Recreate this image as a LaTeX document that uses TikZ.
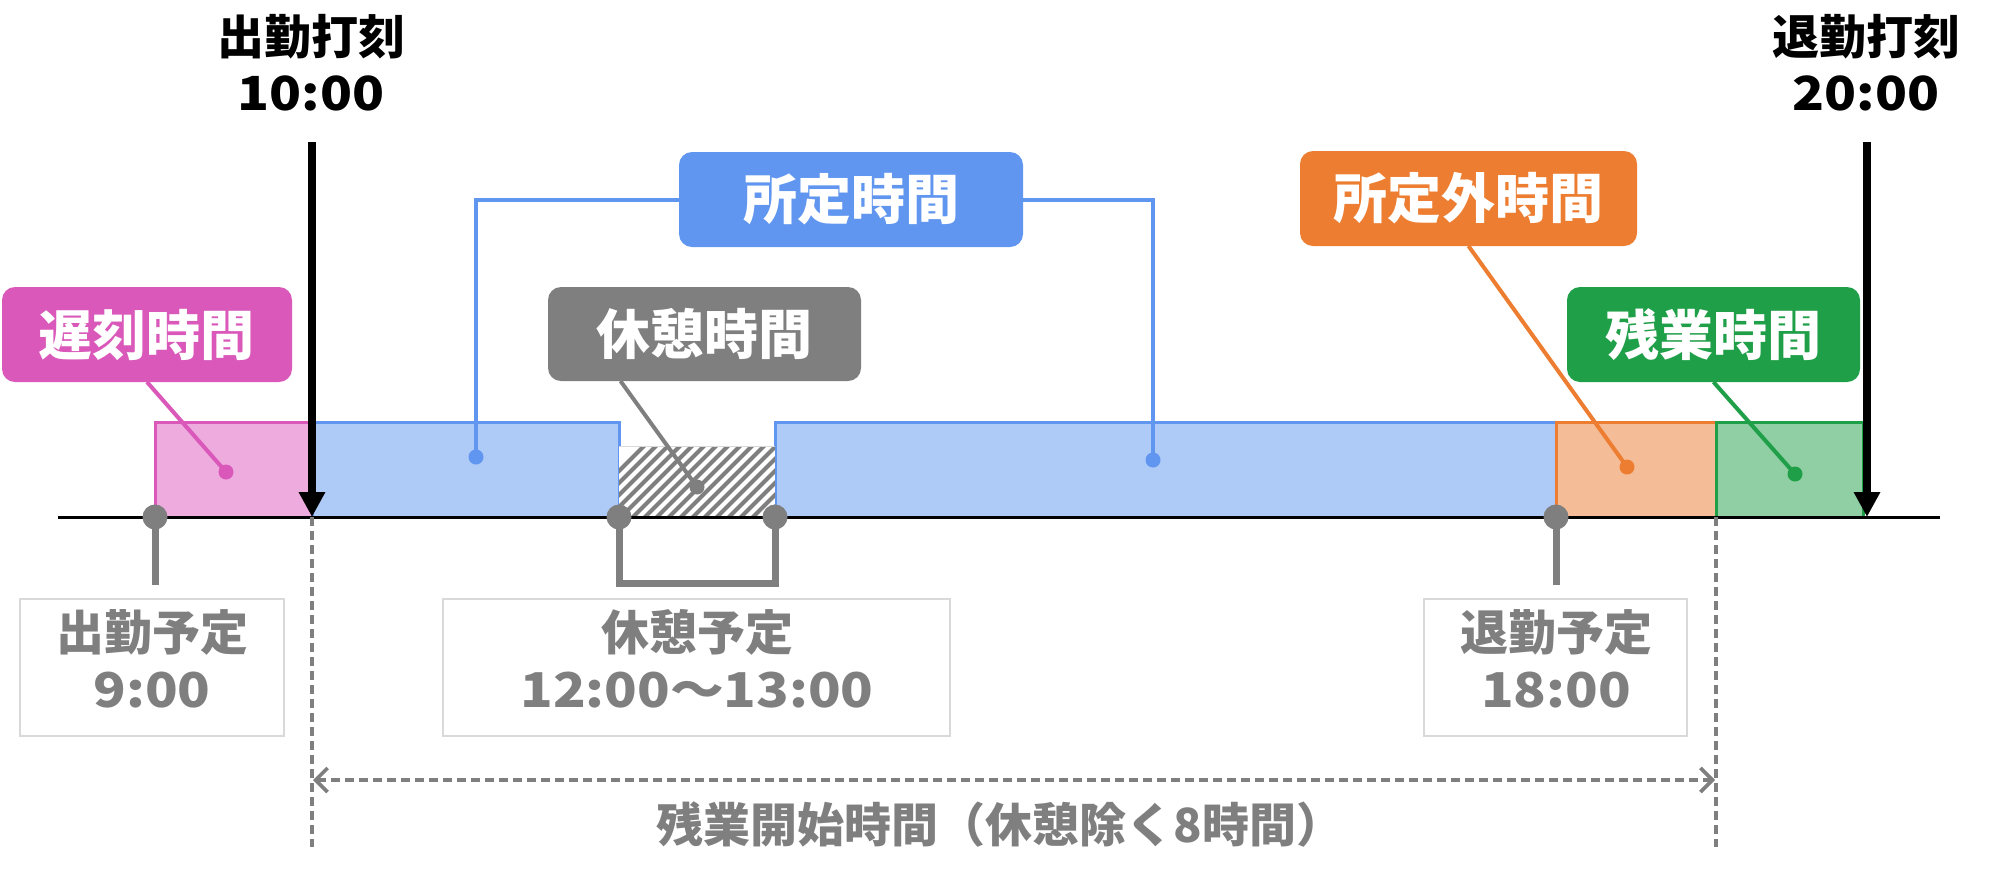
\documentclass[tikz,border=0pt]{standalone}
\usepackage{fontspec}
\usepackage{graphicx}
\setmainfont{Noto Sans CJK JP}
\usetikzlibrary{arrows.meta,fit,calc}
\definecolor{pinkD}{RGB}{218,88,185}
\definecolor{pinkL}{RGB}{237,171,222}
\definecolor{blueD}{RGB}{96,150,240}
\definecolor{blueL}{RGB}{174,202,247}
\definecolor{grayD}{RGB}{127,127,127}
\definecolor{grayB}{RGB}{217,217,217}
\definecolor{orangeD}{RGB}{237,125,49}
\definecolor{orangeL}{RGB}{245,189,151}
\definecolor{greenD}{RGB}{31,159,72}
\definecolor{greenL}{RGB}{143,207,163}
\newcommand{\widedigits}[1]{\scalebox{1.12}[1]{#1}}
\begin{document}
\begin{tikzpicture}[x=0.5pt,y=-0.5pt,
  seg/.style={inner sep=0pt,outer sep=0pt,line width=1.5pt},
  lblbox/.style={inner sep=0pt,outer sep=0pt,rounded corners=6.5pt},
  lbltext/.style={inner sep=0pt,text=white,font=\bfseries\fontsize{27pt}{30pt}\selectfont},
  toplbl/.style={inner sep=0pt,font=\bfseries\fontsize{23.5pt}{28pt}\selectfont},
  schedbox/.style={inner sep=0pt,outer sep=0pt,draw=grayB,line width=0.6pt},
  schedtext/.style={inner sep=0pt,text=grayD,font=\bfseries\fontsize{24pt}{28pt}\selectfont},
  cdot/.style={circle,inner sep=0pt,outer sep=0pt,minimum size=7.5pt},
  gdot/.style={circle,inner sep=0pt,outer sep=0pt,minimum size=12.5pt,fill=grayD},
  con/.style={line width=2pt},
  gline/.style={line width=3.5pt,draw=grayD},
  punch/.style={line width=4pt,-{Triangle[length=12.5pt,width=12.5pt]}},
  gdash/.style={draw=grayD,line width=1.8pt,dash pattern=on 4.5pt off 2.5pt}
]
\useasboundingbox (0,0) rectangle (1999,890);

% time bar segments
\node[seg,fill=pinkL,draw=pinkD,fit={(155,422)(312,517)}] (latebar) {};
\node[seg,fill=blueL,draw=blueD,fit={(312,422)(619,517)}] (blue1) {};
\node[seg,fill=blueL,draw=blueD,fit={(775,422)(1556,517)}] (blue2) {};
\node[seg,fill=orangeL,draw=orangeD,fit={(1556,422)(1716,517)}] (gaibar) {};
\node[seg,fill=greenL,draw=greenD,fit={(1716,422)(1863,517)}] (zanbar) {};
\node[seg,fill=white,fit={(619,446)(775,517)}] (hatch) {};
\begin{scope}
  \clip (619,446) rectangle (775,517);
  \foreach \i in {0,...,20}{
    \draw[grayD,line width=2pt] (560+\i*12,530) -- (560+\i*12+90,440);
  }
\end{scope}
\draw[grayB,line width=0.5pt] (hatch.north west) -- (hatch.north east);

% baseline
\coordinate (bl0) at (58,517);
\coordinate (bl1) at (1940,517);
\draw[line width=1.5pt] (bl0) -- (bl1);

% label boxes
\node[lblbox,fill=pinkD,fit={(2,287)(292,382)}] (late) {};
\node[lbltext] at (late.center) {遅刻時間};
\node[lblbox,fill=grayD,fit={(548,287)(861,381)}] (brk) {};
\node[lbltext] at (brk.center) {休憩時間};
\node[lblbox,fill=blueD,fit={(679,152)(1023,247)}] (shotei) {};
\node[lbltext] at (shotei.center) {所定時間};
\node[lblbox,fill=orangeD,fit={(1300,151)(1637,246)}] (gai) {};
\node[lbltext] at (gai.center) {所定外時間};
\node[lblbox,fill=greenD,fit={(1567,287)(1860,382)}] (zan) {};
\node[lbltext] at (zan.center) {残業時間};

% dots
\node[cdot,fill=pinkD] (latedot) at (226,472) {};
\node[cdot,fill=blueD] (bdot1) at (476,457) {};
\node[cdot,fill=blueD] (bdot2) at (1153,460) {};
\node[cdot,fill=grayD] (brkdot) at (697,487) {};
\node[cdot,fill=orangeD] (gaidot) at (1627,467) {};
\node[cdot,fill=greenD] (zandot) at (1795,474) {};

% connectors
\draw[con,pinkD] (late.south) -- (latedot.center);
\draw[con,grayD] ([xshift=-42pt]brk.south) -- (brkdot.center);
\draw[con,blueD] (shotei.west) -| (bdot1.center);
\draw[con,blueD] (shotei.east) -| (bdot2.center);
\draw[con,orangeD] (gai.south) -- (gaidot.center);
\draw[con,greenD] (zan.south) -- (zandot.center);

% punch arrows
\node[toplbl] (inlbl) at (311,37) {出勤打刻};
\node[toplbl] (intime) at (311,93) {\widedigits{10:00}};
\node[toplbl] (outlbl) at (1866,37) {退勤打刻};
\node[toplbl] (outtime) at (1866,93) {\widedigits{20:00}};
\coordinate (inTop) at (312,142);
\coordinate (inEnd) at (312,517);
\coordinate (outTop) at (1867,142);
\coordinate (outEnd) at (1867,517);
\draw[punch] (inTop) -- (inEnd);
\draw[punch] (outTop) -- (outEnd);

% scheduled markers
\coordinate (g1b) at (155,585);
\coordinate (br1) at (619,583);
\coordinate (br2) at (775,583);
\coordinate (g4b) at (1556,585);
\draw[gline] (155,517) -- (g1b);
\draw[gline] (619,517) -- (br1) -- (br2) -- (775,517);
\draw[gline] (1556,517) -- (g4b);
\node[gdot] (g1) at (155,517) {};
\node[gdot] (g2) at (619,517) {};
\node[gdot] (g3) at (775,517) {};
\node[gdot] (g4) at (1556,517) {};

\node[schedbox,fit={(20,599)(284,736)}] (s1) {};
\node[schedtext] (s1a) at (152,632) {出勤予定};
\node[schedtext] (s1b) at (152,690) {\widedigits{9:00}};
\node[schedbox,fit={(443,599)(950,736)}] (s2) {};
\node[schedtext] (s2a) at (697,632) {休憩予定};
\node[schedtext] (s2b) at (697,690) {\widedigits{12:00〜13:00}};
\node[schedbox,fit={(1424,599)(1687,736)}] (s3) {};
\node[schedtext] (s3a) at (1556,632) {退勤予定};
\node[schedtext] (s3b) at (1556,690) {\widedigits{18:00}};

% overtime start
\coordinate (v1t) at (312,517);
\coordinate (v1b) at (312,847);
\coordinate (v2t) at (1716,517);
\coordinate (v2b) at (1716,847);
\draw[gdash] (v1t) -- (v1b);
\draw[gdash] (v2t) -- (v2b);
\coordinate (da1) at (313,780);
\coordinate (da2) at (1715,780);
\draw[gdash,{Straight Barb[length=6pt,width=12pt]}-{Straight Barb[length=6pt,width=12pt]}] (da1) -- (da2);
\node[text=grayD,inner sep=0pt,font=\bfseries\fontsize{23.5pt}{28pt}\selectfont] (note) at (1000,825) {残業開始時間（休憩除く8時間）};
\end{tikzpicture}
\end{document}
